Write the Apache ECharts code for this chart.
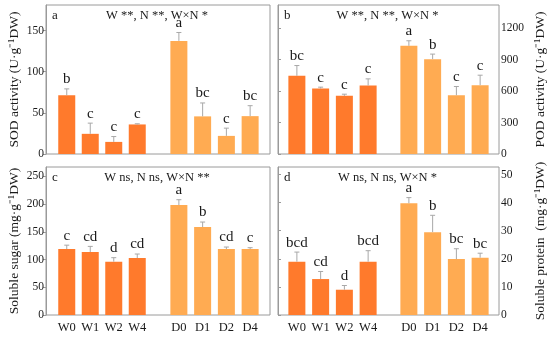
<!DOCTYPE html>
<html><head><meta charset="utf-8">
<script src="https://cdn.jsdelivr.net/npm/echarts@6/dist/echarts.min.js"></script>
<style>html,body{margin:0;padding:0;background:#fff}#c{width:550px;height:341px}</style>
</head><body><div id="c"></div>
<script>
const catsW = ['W0','W1','W2','W4'];
const catsD = ['D0','D1','D2','D4'];

const sodMean = [71.3,24.5,14.7,35.9,137.4,45.7,22.0,46.0];
const sodSd   = [7.8,13.0,6.5,0.8,10.2,16.3,9.4,12.7];
const sodLetters = ['b','c','c','c','a','bc','c','bc'];

const podMean = [745,624,554,652,1031,904,560,656];
const podSd   = [98,13,16,64,48,48,83,95];
const podLetters = ['bc','c','c','c','a','b','c','c'];

const sugarMean = [119,113.6,96.2,102.8,198.3,158.7,119,119];
const sugarSd   = [7.0,10.2,7.2,7.2,9.7,9.0,3.6,2.4];
const sugarLetters = ['c','cd','d','cd','a','b','cd','c'];

const proteinMean = [19.0,12.8,9.0,19.0,39.8,29.5,19.9,20.4];
const proteinSd   = [3.4,2.7,1.5,3.9,2.0,6.0,3.7,1.6];
const proteinLetters = ['bcd','cd','d','bcd','a','b','bc','bc'];

const sodTicks = [0,50,100,150];
const podTicks = [0,300,600,900,1200];
const sugarTicks = [0,50,100,150,200,250];
const proteinTicks = [0,10,20,30,40,50];

const FONT = '"Liberation Serif","Times New Roman",serif';
const COL_W = '#FF7A2C';
const COL_D = '#FFAB52';
const TXT = '#1a1a1a';
const BORDER = '#9a9a9a';

const panels = [
  {mean:sodMean, sd:sodSd, letters:sodLetters, ticks:sodTicks, max:181, interval:50,
   name:'SOD activity (U·g⁻¹DW)', side:'left', tag:'a', note:'W **, N **, W×N *',
   box:{left:46, top:5, width:224, height:149}, gW:{left:55,width:94}, gD:{left:167,width:95}, xlabels:false},
  {mean:podMean, sd:podSd, letters:podLetters, ticks:podTicks, max:1420, interval:300,
   name:'POD activity (U·g⁻¹DW)', side:'right', tag:'b', note:'W **, N **, W×N *',
   box:{left:278, top:5, width:221, height:149}, gW:{left:285,width:95}, gD:{left:397,width:95}, xlabels:false},
  {mean:sugarMean, sd:sugarSd, letters:sugarLetters, ticks:sugarTicks, max:267, interval:50,
   name:'Soluble sugar (mg·g⁻¹DW)', side:'left', tag:'c', note:'W ns, N ns, W×N **',
   box:{left:46, top:167, width:224, height:148}, gW:{left:55,width:94}, gD:{left:167,width:95}, xlabels:true},
  {mean:proteinMean, sd:proteinSd, letters:proteinLetters, ticks:proteinTicks, max:52.7, interval:10,
   name:'Soluble protein  (mg·g⁻¹DW)', side:'right', tag:'d', note:'W ns, N ns, W×N *',
   box:{left:278, top:167, width:221, height:148}, gW:{left:285,width:95}, gD:{left:397,width:95}, xlabels:true}
];

const grid = [], xAxis = [], yAxis = [], series = [], graphic = [];

function errSeries(idx, means, sds, letters) {
  const data = means.map((m,i)=>[i, m, m + sds[i], letters[i]]);
  return {
    type:'custom', xAxisIndex:idx, yAxisIndex:idx, z:5, silent:true,
    data: data,
    encode:{x:0, y:[1,2]},
    renderItem: function(params, api){
      const x = api.value(0);
      const p0 = api.coord([x, api.value(1)]);
      const p1 = api.coord([x, api.value(2)]);
      const cap = 2.5;
      return {type:'group', children:[
        {type:'line', shape:{x1:p0[0],y1:p0[1],x2:p1[0],y2:p1[1]}, style:{stroke:'#a8a8a8', lineWidth:1}},
        {type:'line', shape:{x1:p1[0]-cap,y1:p1[1],x2:p1[0]+cap,y2:p1[1]}, style:{stroke:'#a8a8a8', lineWidth:1}},
        {type:'text', x:p1[0], y:p1[1]-2, style:{text:api.value(3), fill:TXT, font:'15px '+FONT, align:'center', verticalAlign:'bottom'}}
      ]};
    }
  };
}

panels.forEach(function(p){
  const bi = grid.length;
  grid.push({left:p.box.left, top:p.box.top, width:p.box.width, height:p.box.height, show:true, borderColor:BORDER, borderWidth:1, backgroundColor:'transparent'});
  xAxis.push({type:'value', gridIndex:bi, show:false, min:0, max:1});
  yAxis.push({type:'value', gridIndex:bi, position:p.side, min:0, max:p.max, interval:p.interval,
    name:p.name, nameLocation:'middle', nameGap: p.side==='left'? 25 : 34,
    nameTextStyle:{fontFamily:FONT, fontSize:13.5, color:TXT},
    axisLine:{show:true, lineStyle:{color:BORDER}},
    axisTick:{show:true, length:3, lineStyle:{color:BORDER}, customValues:p.ticks},
    axisLabel:{fontFamily:FONT, fontSize:11.5, color:TXT, margin:2, customValues:p.ticks,
      formatter:function(v){return String(v);}},
    splitLine:{show:false}});
  [[p.gW, catsW, COL_W, 0],[p.gD, catsD, COL_D, 4]].forEach(function(g){
    const gi = grid.length;
    grid.push({left:g[0].left, width:g[0].width, top:p.box.top, height:p.box.height});
    xAxis.push({type:'category', gridIndex:gi, data:g[1],
      axisLine:{show:false}, axisTick:{show:false},
      axisLabel:{show:p.xlabels, fontFamily:FONT, fontSize:12.5, color:TXT, margin:6}});
    yAxis.push({type:'value', gridIndex:gi, min:0, max:p.max, show:false, splitLine:{show:false}});
    const m = p.mean.slice(g[3], g[3]+4);
    const s = p.sd.slice(g[3], g[3]+4);
    const l = p.letters.slice(g[3], g[3]+4);
    series.push({type:'bar', xAxisIndex:gi, yAxisIndex:gi, data:m, barWidth:17, itemStyle:{color:g[2]}, silent:true});
    series.push(errSeries(gi, m, s, l));
  });
  graphic.push({type:'text', left:p.box.left+6, top:p.box.top+4, style:{text:p.tag, font:'13px '+FONT, fill:TXT}});
  graphic.push({type:'text', x:p.box.left + p.box.width/2 - 1, y:p.box.top+11, style:{text:p.note, font:'12.5px '+FONT, fill:TXT, align:'center', verticalAlign:'middle'}});
});

const chart = echarts.init(document.getElementById('c'), null, {renderer:'canvas'});
chart.setOption({animation:false, grid:grid, xAxis:xAxis, yAxis:yAxis, series:series, graphic:graphic});
</script>
</body></html>
